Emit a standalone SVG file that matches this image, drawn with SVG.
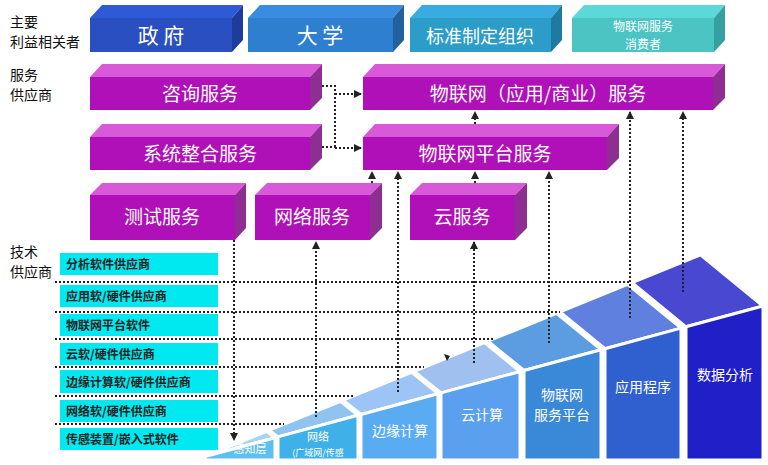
<svg xmlns="http://www.w3.org/2000/svg" width="768" height="465" viewBox="0 0 768 465">
<defs>
<style>
text{font-family:"Noto Sans CJK SC","Noto Sans",sans-serif}
.lab{font-size:14px;fill:#111}
.w{fill:#fff;text-anchor:middle}
.mf{fill:#b010b8}.mt{fill:#d85ad8}.ms{fill:#8e2e92}
.cy{fill:#00e8f0}
.ct{font-size:12px;fill:#222;font-weight:bold}
.dot{stroke:#222;stroke-width:2;stroke-dasharray:2 2;fill:none}
.step{stroke:#fff;stroke-width:3}
</style>
<marker id="ar" viewBox="0 0 8 8" refX="7" refY="4" markerWidth="4" markerHeight="4" orient="auto"><path d="M0,0L8,4L0,8z" fill="#222"/></marker>
</defs>
<rect width="768" height="465" fill="#fff"/>
<text class="lab" x="10" y="27">主要</text><text class="lab" x="10" y="47">利益相关者</text>
<text class="lab" x="10" y="80">服务</text><text class="lab" x="10" y="100">供应商</text>
<text class="lab" x="10" y="257">技术</text><text class="lab" x="10" y="277">供应商</text>

<g id="gov"><polygon points="90,18 102,5 243,5 232,18" fill="#2e5ad6"/><polygon points="232,18 243,5 243,40 232,52" fill="#1e3c9a"/><rect x="90" y="18" width="142" height="34" fill="#2a4fc0"/><text class="w" x="161" y="43" font-size="21">政  府</text></g>
<g id="uni"><polygon points="248,18 260,5 404,5 393,18" fill="#3a8ce0"/><polygon points="393,18 404,5 404,40 393,52" fill="#22609e"/><rect x="248" y="18" width="145" height="34" fill="#2f7fd0"/><text class="w" x="320" y="43" font-size="21">大  学</text></g>
<g id="std"><polygon points="410,18 422,5 562,5 551,18" fill="#38ace0"/><polygon points="551,18 562,5 562,40 551,52" fill="#1e7aa0"/><rect x="410" y="18" width="141" height="34" fill="#2c9cc8"/><text class="w" x="480" y="43" font-size="18">标准制定组织</text></g>
<g id="cons"><polygon points="572,18 584,5 725,5 714,18" fill="#5cd8d8"/><polygon points="714,18 725,5 725,40 714,52" fill="#36a0a0"/><rect x="572" y="18" width="142" height="34" fill="#4cc4c4"/><text class="w" x="643" y="31" font-size="12">物联网服务</text><text class="w" x="643" y="49" font-size="12">消费者</text></g>

<g id="consult"><polygon points="90,77 102,64 322,64 310,77" class="mt"/><polygon points="310,77 322,64 322,98 310,110" class="ms"/><rect x="90" y="77" width="220" height="33" class="mf"/><text class="w" x="200" y="101" font-size="19">咨询服务</text></g>
<g id="iotsvc"><polygon points="363,77 375,64 725,64 713,77" class="mt"/><polygon points="713,77 725,64 725,98 713,110" class="ms"/><rect x="363" y="77" width="350" height="33" class="mf"/><text class="w" x="538" y="101" font-size="19">物联网（应用/商业）服务</text></g>
<g id="integ"><polygon points="90,137 102,124 322,124 310,137" class="mt"/><polygon points="310,137 322,124 322,158 310,170" class="ms"/><rect x="90" y="137" width="220" height="33" class="mf"/><text class="w" x="200" y="161" font-size="19">系统整合服务</text></g>
<g id="plat"><polygon points="363,137 375,124 619,124 607,137" class="mt"/><polygon points="607,137 619,124 619,158 607,170" class="ms"/><rect x="363" y="137" width="244" height="33" class="mf"/><text class="w" x="485" y="161" font-size="19">物联网平台服务</text></g>
<g id="test"><polygon points="90,195 102,183 246,183 235,195" class="mt"/><polygon points="235,195 246,183 246,228 235,240" class="ms"/><rect x="90" y="195" width="145" height="45" class="mf"/><text class="w" x="162" y="224" font-size="19">测试服务</text></g>
<g id="net"><polygon points="255,195 267,183 382,183 370,195" class="mt"/><polygon points="370,195 382,183 382,228 370,240" class="ms"/><rect x="255" y="195" width="115" height="45" class="mf"/><text class="w" x="312" y="224" font-size="19">网络服务</text></g>
<g id="cloud"><polygon points="410,195 422,183 527,183 515,195" class="mt"/><polygon points="515,195 527,183 527,228 515,240" class="ms"/><rect x="410" y="195" width="105" height="45" class="mf"/><text class="w" x="462" y="224" font-size="19">云服务</text></g>

<g id="tech">
<rect class="cy" x="60" y="253" width="158" height="22"/><text class="ct" x="66" y="269">分析软件供应商</text>
<rect class="cy" x="60" y="285" width="158" height="22"/><text class="ct" x="66" y="301">应用软/硬件供应商</text>
<rect class="cy" x="60" y="314" width="158" height="22"/><text class="ct" x="66" y="330">物联网平台软件</text>
<rect class="cy" x="60" y="343" width="158" height="22"/><text class="ct" x="66" y="359">云软/硬件供应商</text>
<rect class="cy" x="60" y="370" width="158" height="23"/><text class="ct" x="66" y="387">边缘计算软/硬件供应商</text>
<rect class="cy" x="60" y="400" width="158" height="22"/><text class="ct" x="66" y="416">网络软/硬件供应商</text>
<rect class="cy" x="60" y="428" width="158" height="22"/><text class="ct" x="66" y="444">传感装置/嵌入式软件</text>
</g>

<g id="ramp">
<polygon class="step" points="205,456.6 275,437.7 266.7,431.3 204.5,456.6" fill="#a8d4f4"/>
<polygon class="step" points="205,456.6 275,437.7 275,460 205,460" fill="#5ec0f0"/>
<polygon class="step" points="278,436.9 358,415.3 340.5,401.3 269.3,430.2" fill="#90c4ee"/>
<polygon class="step" points="278,436.9 358,415.3 358,460 278,460" fill="#40b0e8"/>
<polygon class="step" points="361,414.5 438,393.7 411.6,372.3 343.1,400.2" fill="#9cc4f4"/>
<polygon class="step" points="361,414.5 438,393.7 438,460 361,460" fill="#5aacf2"/>
<polygon class="step" points="441,392.9 520,371.6 484.5,342.6 414.2,371.3" fill="#a0c0f0"/>
<polygon class="step" points="441,392.9 520,371.6 520,460 441,460" fill="#5aa0ee"/>
<polygon class="step" points="524,370.5 601,349.7 556.5,313.3 488,341.2" fill="#5c9ce0"/>
<polygon class="step" points="524,370.5 601,349.7 601,460 524,460" fill="#3a88d8"/>
<polygon class="step" points="605,348.7 681,328.1 627.6,284.4 560,311.9" fill="#6080e0"/>
<polygon class="step" points="605,348.7 681,328.1 681,460 605,460" fill="#3060d0"/>
<polygon class="step" points="686,326.8 763,306 700.5,254.8 632.1,282.6" fill="#4848d0"/>
<polygon class="step" points="686,326.8 763,306 763,460 686,460" fill="#2020c8"/>
<text class="w" x="250" y="453" font-size="11">感知层</text>
<text class="w" x="318" y="441" font-size="11">网络</text><text class="w" x="318" y="456" font-size="9">(广域网/传感</text>
<text class="w" x="400" y="436" font-size="14">边缘计算</text>
<text class="w" x="482" y="420" font-size="14">云计算</text>
<text class="w" x="562" y="400" font-size="14">物联网</text><text class="w" x="562" y="420" font-size="14">服务平台</text>
<text class="w" x="643" y="392" font-size="14">应用程序</text>
<text class="w" x="725" y="380" font-size="14">数据分析</text>
</g>

<g id="connectors">
<path class="dot" d="M55,282H630M55,312H560M55,339H493M55,367H424M55,396H353M55,424H284"/>
<path class="dot" d="M234,240V440" marker-end="url(#ar)"/>
<path class="dot" d="M316,417V242" marker-end="url(#ar)"/>
<path class="dot" d="M398,392V172" marker-end="url(#ar)"/>
<path class="dot" d="M474,363V242" marker-end="url(#ar)"/>
<path class="dot" d="M549,343V172" marker-end="url(#ar)"/>
<path class="dot" d="M630,318V112" marker-end="url(#ar)"/>
<path class="dot" d="M683,292V112" marker-end="url(#ar)"/>
<path class="dot" d="M475,183V172" marker-end="url(#ar)"/>
<path class="dot" d="M475,124V112" marker-end="url(#ar)"/>
<path class="dot" d="M372,183V172" marker-end="url(#ar)"/>
<path class="dot" d="M322,86H335V147M322,147H335"/>
<path class="dot" d="M335,94H361" marker-end="url(#ar)"/>
<path class="dot" d="M335,148H361" marker-end="url(#ar)"/>
<path d="M444,354L450,356L447,361z" fill="#222"/>
</g>
</svg>
